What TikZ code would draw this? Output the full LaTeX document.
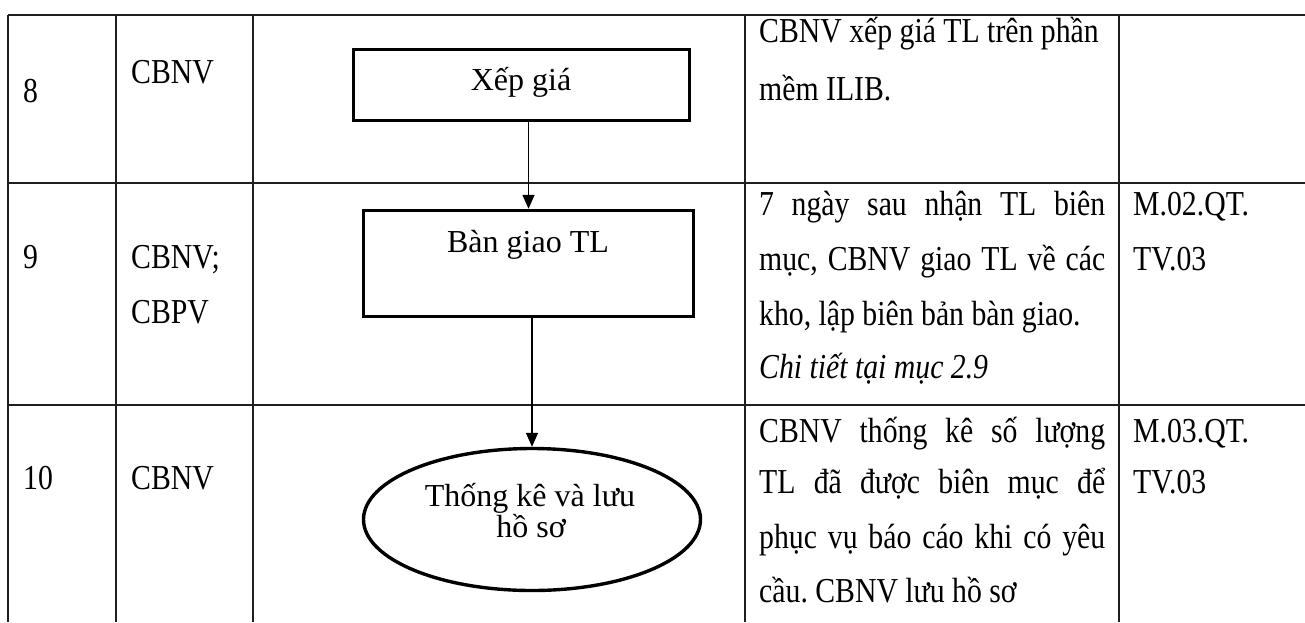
\documentclass[tikz,border=0pt]{standalone}
\usepackage{fontspec}
\setmainfont{Liberation Serif}
\newfontfamily\tabfont[FakeStretch=0.85]{Liberation Serif}
\usetikzlibrary{arrows.meta,shapes.geometric}
\newcommand{\jline}[1]{\makebox[346pt][s]{#1}}
\frenchspacing

\begin{document}
\begin{tikzpicture}[x=1pt,y=-1pt,
  rule/.style={line width=1.7pt, draw=black!88},
  txt/.style={anchor=base west, inner sep=0pt, font=\tabfont\fontsize{35}{42}\selectfont},
  ctxt/.style={anchor=base, inner sep=0pt, font=\fontsize{32}{38}\selectfont},
  stepbox/.style={draw, line width=3.4pt, inner sep=0pt},
  flow/.style={line width=1.5pt, -{Triangle[length=14pt,width=12pt]}}
]
\useasboundingbox (0,0) rectangle (1305,622);
\fill[white] (0,0) rectangle (1305,622);

% table rules
\foreach \yy in {15,183,405} \draw[rule] (8,\yy) -- (1305,\yy);
\foreach \xx in {8,116,253,745,1119} \draw[rule] (\xx,15) -- (\xx,622);

% step numbers and actors
\node[txt] (n8) at (23,102) {8};
\node[txt] (a8) at (131,83) {CBNV};
\node[txt] (n9) at (23,268) {9};
\node[txt] (a9a) at (131,268) {CBNV;};
\node[txt] (a9b) at (131,323) {CBPV};
\node[txt] (n10) at (23,489) {10};
\node[txt] (a10) at (131,489) {CBNV};

% flow chart
\node[stepbox, minimum width=336pt, minimum height=71pt] (b1) at (521.5,85) {};
\node[ctxt] (t1) at (521,90) {Xếp giá};
\node[stepbox, minimum width=330pt, minimum height=106pt] (b2) at (528.5,263.5) {};
\node[ctxt] (t2) at (528,252) {Bàn giao TL};
\node[ellipse, draw, line width=3.4pt, inner sep=0pt, minimum width=337pt, minimum height=142pt] (e3) at (532,519.5) {};
\node[ctxt] (t3a) at (530,506) {Thống kê và lưu};
\node[ctxt] (t3b) at (531,537) {hồ sơ};

\draw[flow] (b2.north |- b1.south) -- (b2.north);
\draw[flow] (e3.north |- b2.south) -- (e3.north);

% descriptions
\node[txt] (d8a) at (759,42) {CBNV xếp giá TL trên phần};
\node[txt] (d8b) at (759,100) {mềm ILIB.};

\node[txt] (d9a) at (759,215) {\jline{7 ngày sau nhận TL biên}};
\node[txt] (d9b) at (759,270) {\jline{mục, CBNV giao TL về các}};
\node[txt] (d9c) at (759,325) {kho, lập biên bản bàn giao.};
\node[txt] (d9d) at (759,378) {\itshape Chi tiết tại mục 2.9};

\node[txt] (d10a) at (759,442) {\jline{CBNV thống kê số lượng}};
\node[txt] (d10b) at (759,493) {\jline{TL đã được biên mục để}};
\node[txt] (d10c) at (759,548) {\jline{phục vụ báo cáo khi có yêu}};
\node[txt] (d10d) at (759,602) {cầu. CBNV lưu hồ sơ};

% form codes
\node[txt] (c9a) at (1133,215) {M.02.QT.};
\node[txt] (c9b) at (1133,270) {TV.03};
\node[txt] (c10a) at (1133,442) {M.03.QT.};
\node[txt] (c10b) at (1133,493) {TV.03};
\end{tikzpicture}
\end{document}
